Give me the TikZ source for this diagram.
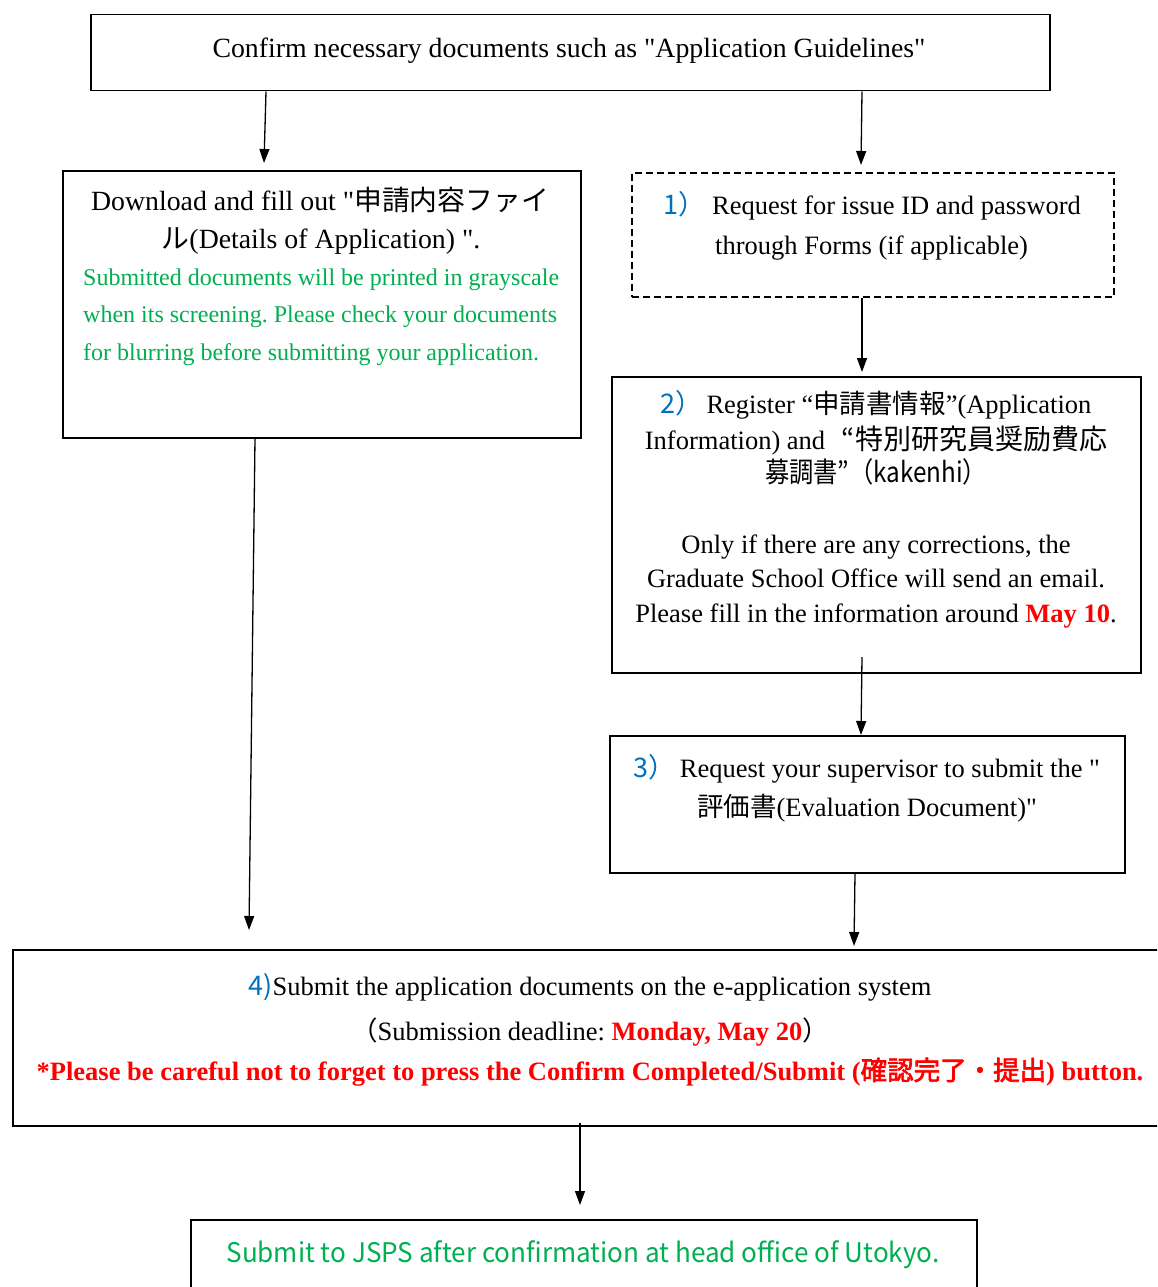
\documentclass[tikz,border=0pt]{standalone}
\usepackage{fontspec}
\setmainfont{Liberation Serif}[Ligatures=TeXOff]
\newfontfamily\jp{Noto Sans CJK JP}[AutoFakeBold=2.5]
\usetikzlibrary{arrows.meta}
\definecolor{myblue}{RGB}{0,112,192}
\definecolor{mygreen}{RGB}{0,176,80}
\definecolor{myred}{RGB}{255,0,0}
\frenchspacing
\begin{document}
\begin{tikzpicture}[x=1pt,y=-1pt,
  box/.style={draw, line width=1.5pt, anchor=north west, inner sep=0pt},
  txt/.style={inner sep=0pt, anchor=base},
  ltxt/.style={inner sep=0pt, anchor=base west},
  big/.style={font=\fontsize{27.8}{33}\selectfont},
  mid/.style={font=\fontsize{26.5}{32}\selectfont},
  grn/.style={font=\fontsize{24}{29}\selectfont, text=mygreen},
  num/.style={font=\jp\fontsize{27}{32}\selectfont, text=myblue},
  arr/.style={-{Triangle[length=14pt,width=10pt]}, line width=1.3pt}]
\clip (0,0) rectangle (1157,1287);
\fill[white] (0,0) rectangle (1157,1287);

% boxes
\node[box, minimum width=959pt, minimum height=76pt] (top) at (90,14) {};
\node[box, minimum width=518pt, minimum height=267pt] (left) at (62,170) {};
\node[box, dashed, dash pattern=on 7pt off 4pt, minimum width=482pt, minimum height=124pt] (b1) at (631,172) {};
\node[box, minimum width=529pt, minimum height=296pt] (b2) at (611,376) {};
\node[box, minimum width=515pt, minimum height=137pt] (b3) at (609,735) {};
\node[box, minimum width=1160pt, minimum height=176pt] (b4) at (12,949) {};
\node[box, minimum width=786pt, minimum height=100pt] (b5) at (190,1219) {};

% texts
\node[txt, big] (t0) at (569,58) {Confirm necessary documents such as "Application Guidelines"};

\node[txt, big] (l1) at (320,210) {Download and fill out "{\jp 申請内容ファイ}};
\node[txt, big] (l2) at (321,248) {{\jp ル}(Details of Application) ".};
\node[ltxt, grn] (g1) at (83,285) {Submitted documents will be printed in grayscale};
\node[ltxt, grn] (g2) at (83,322) {when its screening. Please check your documents};
\node[ltxt, grn] (g3) at (83,360) {for blurring before submitting your application.};

\node[ltxt, num] (n1) at (663,214) {1）};
\node[ltxt, mid] (r1) at (712,214) {Request for issue ID and password};
\node[ltxt, mid] (r2) at (715,254) {through Forms (if applicable)};

\node[txt, mid] (s1) at (876,413) {{\jp\color{myblue}\fontsize{27}{32}\selectfont 2）}\hspace{4pt}Register “{\jp 申請書情報}”(Application};
\node[txt, mid] (s2) at (876,449) {Information) and \hspace{10pt}{\jp\fontsize{28}{32}\selectfont “特別研究員奨励費応}};
\node[txt, mid] (s3) at (876,482) {\resizebox{222pt}{\height}{\jp\fontsize{28}{32}\selectfont 募調書”（kakenhi）}};
\node[txt, mid] (s4) at (876,553) {Only if there are any corrections, the};
\node[txt, mid] (s5) at (876,587) {Graduate School Office will send an email.};
\node[txt, mid] (s6) at (876,622) {Please fill in the information around {\bfseries\color{myred}May 10}.};

\node[txt, mid] (u1) at (867,777) {{\jp\color{myblue}\fontsize{27}{32}\selectfont 3）}\hspace{4pt}Request your supervisor to submit the "};
\node[txt, mid] (u2) at (867,816) {{\jp 評価書}(Evaluation Document)"};

\node[txt, mid] (v1) at (590,995) {{\jp\color{myblue}\fontsize{27}{32}\selectfont 4)}Submit the application documents on the e-application system};
\node[txt, mid] (v2) at (590,1040) {{\jp （}Submission deadline: {\bfseries\color{myred}Monday, May 20}{\jp ）}};
\node[txt, mid, text=myred, font=\bfseries\fontsize{26.5}{32}\selectfont] (v3) at (590,1080) {*Please be careful not to forget to press the Confirm Completed/Submit ({\jp 確認完了・提出}) button.};

\node[txt] (w1) at (583,1262) {\resizebox{713pt}{\height}{\jp\fontsize{27}{32}\selectfont\color{mygreen}Submit to JSPS after confirmation at head office of Utokyo.}};

% connectors
\coordinate (e1) at (264,163);
\coordinate (e2) at (861,165);
\coordinate (e3) at (862,372);
\coordinate (s23) at (862,657);
\coordinate (e4) at (861,735);
\coordinate (e5) at (249,930);
\coordinate (e6) at (854,946);
\coordinate (s45) at (580,1123);
\coordinate (e7) at (580,1205);
\draw[arr] (top.south -| 266,0) -- (e1);
\draw[arr] (top.south -| 862,0) -- (e2);
\draw[arr] (b1.south -| 862,0) -- (e3);
\draw[arr] (s23) -- (e4);
\draw[arr] (left.south -| 255,0) -- (e5);
\draw[arr] (b3.south -| 855,0) -- (e6);
\draw[arr] (s45) -- (e7);
\end{tikzpicture}
\end{document}
